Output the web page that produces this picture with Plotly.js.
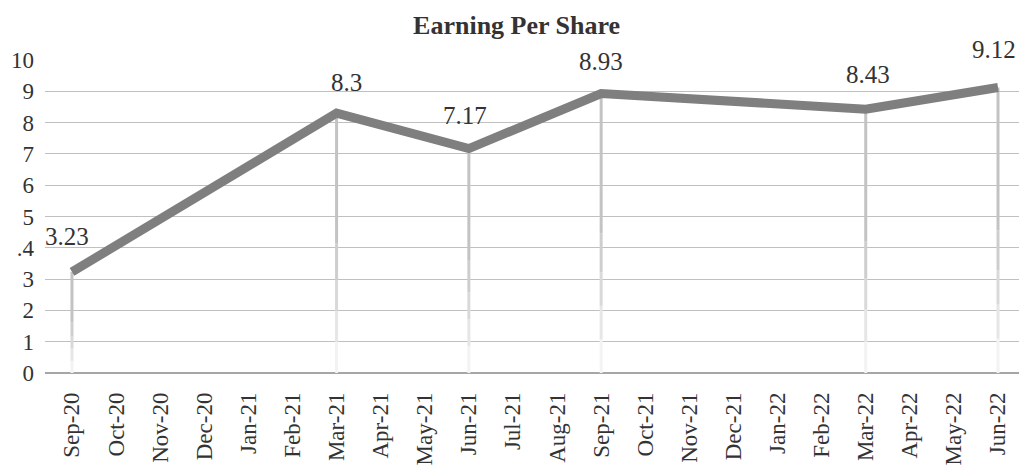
<!DOCTYPE html>
<html>
<head>
<meta charset="utf-8">
<script src="https://cdn.plot.ly/plotly-3.0.1.min.js"></script>
<style>
html,body{margin:0;padding:0;background:#fff;}
#chart{width:1019px;height:468px;}
</style>
</head>
<body>
<div id="chart"></div>
<script>
var months = ['Sep-20','Oct-20','Nov-20','Dec-20','Jan-21','Feb-21','Mar-21','Apr-21','May-21','Jun-21','Jul-21','Aug-21','Sep-21','Oct-21','Nov-21','Dec-21','Jan-22','Feb-22','Mar-22','Apr-22','May-22','Jun-22'];
var epsDates = ['Sep-20','Mar-21','Jun-21','Sep-21','Mar-22','Jun-22'];
var epsValues = [3.23, 8.3, 7.17, 8.93, 8.43, 9.12];
var yTickVals = [0,1,2,3,4,5,6,7,8,9,10];
var yTickText = ['0','1','2','3','.4','5','6','7','8','9','10'];

// label styling (offsets in pixels)
var labelXShift = [-5, 10, -4, 0, 2, -4];
var labelYShift = [35, 31, 33, 32, 35, 38];

var serif = '"Liberation Serif", "Times New Roman", serif';

var traces = [];
// drop lines with a fade toward the axis
var fadeStops = [0, 0.12, 0.24, 0.36, 0.5, 1];
var fadeColors = ['#f3f3f3', '#e6e6e6', '#d9d9d9', '#cecece', '#c3c3c3'];
for (var s = 0; s < fadeColors.length; s++) {
  var dx = [], dy = [];
  epsDates.forEach(function(d, i){
    dx.push(d, d, null);
    dy.push(epsValues[i] * fadeStops[s], epsValues[i] * fadeStops[s+1], null);
  });
  traces.push({x: dx, y: dy, type:'scatter', mode:'lines', line:{color: fadeColors[s], width:3}, hoverinfo:'skip', showlegend:false});
}
traces.push({x: epsDates, y: epsValues, type:'scatter', mode:'lines', line:{color:'#7f7f7f', width:9}, showlegend:false});

var annotations = epsDates.map(function(d, i){
  return {x: d, y: epsValues[i], xref:'x', yref:'y', text: String(epsValues[i]), showarrow:false,
    xshift: labelXShift[i], yshift: labelYShift[i], font:{family: serif, size:25, color:'#333'}};
});

var layout = {
  width:1019, height:468,
  margin:{l:45, r:0, t:60, b:95},
  paper_bgcolor:'#fff', plot_bgcolor:'#fff',
  title:{text:'<b>Earning Per Share</b>', x:0.507, xanchor:'center', y:0.947, yanchor:'middle', font:{family: serif, size:26, color:'#333'}},
  xaxis:{type:'category', categoryorder:'array', categoryarray: months, tickvals: months, ticktext: months,
    range:[-0.612, 21.476], tickangle:-90, showgrid:false, zeroline:false, ticks:'', showline:false,
    ticklabelstandoff:14,
    tickfont:{family: serif, size:23, color:'#333'}},
  yaxis:{range:[0,10], tickvals: yTickVals, ticktext: yTickText, showgrid:true, gridcolor:'#c0c0c0', gridwidth:1,
    zeroline:true, zerolinecolor:'#a6a6a6', zerolinewidth:1.5, ticks:'', ticklabelstandoff:10,
    tickfont:{family: serif, size:23, color:'#333'}},
  annotations: annotations,
  showlegend:false
};
Plotly.newPlot('chart', traces, layout, {staticPlot:true, displayModeBar:false});
</script>
</body>
</html>
